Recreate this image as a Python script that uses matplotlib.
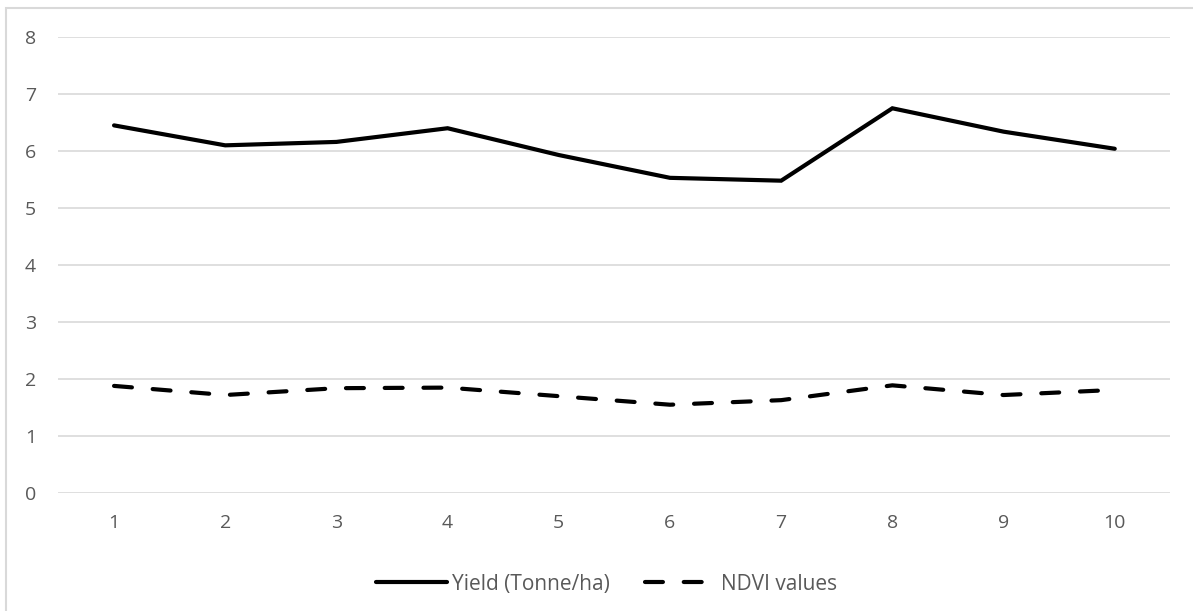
import matplotlib.pyplot as plt
from matplotlib.patches import Rectangle

# values
plots = [1, 2, 3, 4, 5, 6, 7, 8, 9, 10]
yield_t = [6.45, 6.10, 6.16, 6.40, 5.93, 5.53, 5.48, 6.75, 6.34, 6.04]
ndvi = [1.88, 1.72, 1.84, 1.85, 1.70, 1.55, 1.63, 1.89, 1.72, 1.81]
y_ticks = [0, 1, 2, 3, 4, 5, 6, 7, 8]

plt.rcParams['font.family'] = ['Open Sans', 'DejaVu Sans']

fig = plt.figure(figsize=(11.93, 6.11), dpi=100)
ax = fig.add_axes([0.049, 0.193, 0.932, 0.7464])

ax.plot(plots, yield_t, color='black', lw=3, solid_capstyle='round',
        solid_joinstyle='miter', label='Yield (Tonne/ha)')
ax.plot(plots, ndvi, color='black', lw=3, dashes=(4.3, 5.0),
        dash_capstyle='round', label='NDVI values')

ax.set_xlim(0.5, 10.5)
ax.set_ylim(0, 8)
ax.set_xticks(plots)
ax.set_yticks(y_ticks)
ax.tick_params(length=0, labelsize=14, labelcolor='#595959')
ax.tick_params(axis='x', pad=15)
ax.tick_params(axis='y', pad=16)
ax.grid(axis='y', color='#d9d9d9', lw=1.2)
ax.set_axisbelow(True)
for s in ax.spines.values():
    s.set_visible(False)

leg = ax.legend(loc='center', bbox_to_anchor=(0.493, -0.2), ncol=2,
                frameon=False, fontsize=15, handlelength=3.4,
                columnspacing=1.7, handletextpad=0.25)
for t in leg.get_texts():
    t.set_color('#595959')

# chart area border (cropped at right and bottom)
fig.patches.append(Rectangle((6 / 1193, -0.1), 1.2, 1.1 - 8 / 611,
                             transform=fig.transFigure, fill=False,
                             edgecolor='#d9d9d9', lw=1.5))

fig.savefig('out.png', dpi=100)
